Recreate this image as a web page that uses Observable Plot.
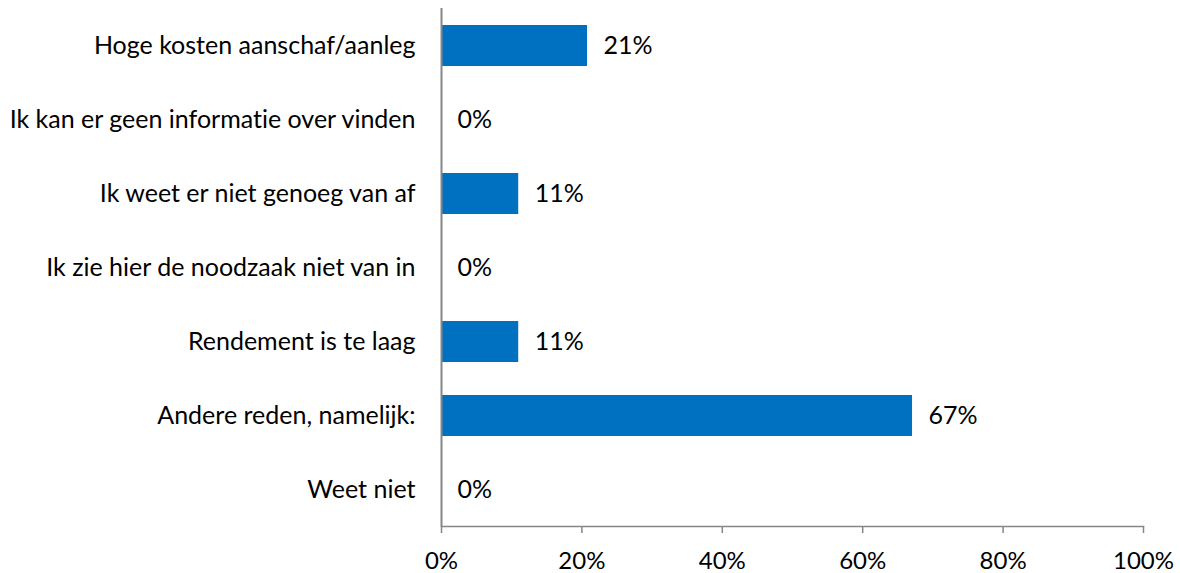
<!DOCTYPE html>
<html>
<head>
<meta charset="utf-8">
<script src="https://cdn.jsdelivr.net/npm/d3@7"></script>
<script src="https://cdn.jsdelivr.net/npm/@observablehq/plot@0.6"></script>
<style>
  html, body { margin: 0; padding: 0; background: #fff; }
  #chart svg { display: block; }
  #chart svg text { font-variant-ligatures: none; font-feature-settings: "liga" 0, "dlig" 0; }
</style>
</head>
<body>
<div id="chart"></div>
<script>
const categories = [
  "Hoge kosten aanschaf/aanleg",
  "Ik kan er geen informatie over vinden",
  "Ik weet er niet genoeg van af",
  "Ik zie hier de noodzaak niet van in",
  "Rendement is te laag",
  "Andere reden, namelijk:",
  "Weet niet"
];
const values = [20.8, 0, 11.0, 0, 11.0, 67.1, 0];
const xTicks = [0, 20, 40, 60, 80, 100];

const data = categories.map((c, i) => ({category: c, value: values[i]}));
const font = "Lato, 'Open Sans', sans-serif";
const fs = 25;

const chart = Plot.plot({
  width: 1180,
  height: 573,
  marginLeft: 441,
  marginRight: 37,
  marginTop: 8,
  marginBottom: 47,
  style: {fontFamily: font, fontSize: fs + "px", color: "#000", background: "#fff"},
  x: {domain: [0, 100]},
  y: {domain: categories, paddingInner: 0.45, paddingOuter: 0.225},
  marks: [
    Plot.barX(data, {x: "value", y: "category", fill: "#0070C0"}),
    Plot.text(data, {x: "value", y: "category", text: d => Math.round(d.value) + "%", textAnchor: "start", dx: 16, fontSize: fs, fill: "#000"}),
    Plot.frame({anchor: "bottom", stroke: "#868686", strokeWidth: 1.5}),
    Plot.ruleX([0], {stroke: "#868686", strokeWidth: 2}),
    Plot.axisX({ticks: xTicks, tickFormat: d => d + "%", tickSize: 7, tickPadding: 18, stroke: "#868686", strokeWidth: 1.5, fontSize: 24, fill: "#000", label: null}),
    Plot.axisY({tickSize: 0, tickPadding: 26, fontSize: fs, fill: "#000", label: null})
  ]
});
document.getElementById("chart").append(chart);
</script>
</body>
</html>
